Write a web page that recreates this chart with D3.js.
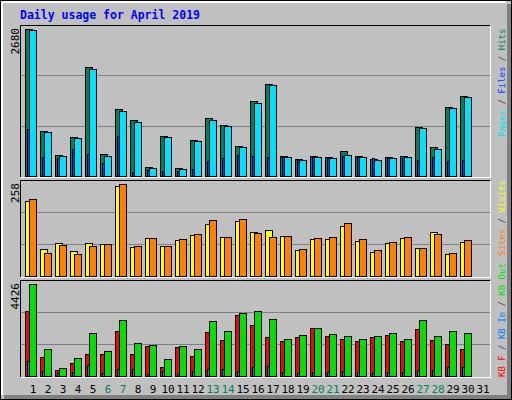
<!DOCTYPE html>
<html><head><meta charset="utf-8">
<script src="https://cdn.jsdelivr.net/npm/d3@7"></script>
<style>body{margin:0;background:#fff}svg{display:block}</style>
</head><body>
<script>
const days = d3.range(1,32);
const weekends = [6,7,13,14,20,21,27,28];
const hits  = [2680,820,383,711,1987,401,1221,1021,164,729,146,656,1057,930,547,1367,1677,365,310,365,346,456,365,310,346,365,893,529,1258,1458,0];
const files = [2662,802,365,693,1950,365,1185,985,146,711,128,638,1021,911,529,1330,1659,346,292,346,328,383,346,292,328,346,875,492,1240,1440,0];
const pages = [857,346,328,492,401,237,729,73,109,91,91,128,273,328,383,365,346,346,292,346,328,365,346,328,328,328,292,346,273,292,0];
const visits= [209,75,92,69,92,89,252,80,106,83,100,114,145,109,153,123,128,111,72,103,103,139,97,66,92,106,78,123,61,94,0];
const sites = [215,64,86,61,83,89,257,83,106,83,103,117,156,109,159,120,109,111,75,106,109,148,103,72,94,109,78,117,64,100,0];
const kbOut = [4426,1289,372,854,2061,1192,2689,1578,1482,806,1434,1289,2640,2158,3027,3123,2737,1771,1965,2302,2013,1916,1771,1916,2061,1771,2689,1916,2158,2061,0];
const kbF   = [3123,903,275,613,1047,1047,2158,1047,1434,420,1385,951,2109,1723,2930,2447,1868,1675,1868,2302,1916,1771,1675,1868,1965,1675,2254,1723,1530,1289,0];
const kbIn  = [710,227,130,179,516,130,323,323,82,227,82,227,323,323,227,420,468,179,130,179,179,227,179,130,179,179,275,275,420,420,0];
const maxLabels = ["2680","258","4426"];

const svg = d3.select("body").append("svg").attr("width",512).attr("height",400);
const mono = "'DejaVu Sans Mono', monospace";
svg.append("rect").attr("width",512).attr("height",400).attr("fill","#C0C0C0");
// frame
svg.append("rect").attr("x",0.5).attr("y",0.5).attr("width",511).attr("height",399).attr("fill","none").attr("stroke","#000");
svg.append("path").attr("d","M1,1H506V3H3V395H1Z").attr("fill","#fff");
svg.append("path").attr("d","M507,4H511V399H4V395H507Z").attr("fill","#808080");

svg.append("text").attr("x",20).attr("y",19).attr("font-family",mono).attr("font-weight","bold")
  .attr("font-size","11.5px").attr("fill","#0000FF").text("Daily usage for April 2019");

const x = d3.scaleBand().domain(days).range([25,490]).paddingInner(0).paddingOuter(0);

const panels = [
  {top:25, bottom:177, max:2680, yTop:29, series:[[hits,"#00805C"],[files,"#00E0FF"],[pages,"#0040FF"]], label:maxLabels[0],
   legend:[["Pages","#00E0FF"],[" / ","#404040"],["Files","#0040FF"],[" / ","#404040"],["Hits","#00805C"]], lAnchorY:137},
  {top:180, bottom:277, max:258, yTop:184, series:[[visits,"#FFFF00"],[sites,"#FF8000"]], label:maxLabels[1],
   legend:[["Sites","#FF8000"],[" / ","#404040"],["Visits","#FFFF00"]], lAnchorY:256},
  {top:280, bottom:377, max:4426, yTop:284, series:[[kbF,"#FF0000"],[kbOut,"#00E000"],[kbIn,"#0080FF"]], label:maxLabels[2],
   legend:[["KB F","#FF0000"],[" / ","#404040"],["KB In","#0080FF"],[" / ","#404040"],["KB Out","#00E000"]], lAnchorY:377}
];

panels.forEach(p=>{
  const base = p.bottom-1;
  const y = d3.scaleLinear().domain([0,p.max]).range([base,p.yTop]);
  // inset frame
  svg.append("path").attr("d",`M20.5,${p.bottom}V${p.top+0.5}H490.5`).attr("fill","none").attr("stroke","#000");
  svg.append("path").attr("d",`M20.5,${p.bottom+0.5}H490.5V${p.top+0.5}`).attr("fill","none").attr("stroke","#fff");
  const h = base - p.top;
  [1,2].forEach(k=>{
    const gy = Math.round(p.top + h*k/3)+0.5;
    svg.append("line").attr("x1",21).attr("x2",490).attr("y1",gy).attr("y2",gy).attr("stroke","#808080");
  });
  const g = svg.append("g");
  const offs = [[0,7],[4,7],[2,2]];
  p.series.forEach((s,si)=>{
    const [vals,col] = s;
    g.selectAll(null).data(vals.map((v,i)=>({d:days[i],v}))).enter()
      .filter(d=>d.v>0)
      .append("rect")
      .attr("x",d=>Math.round(x(d.d))+offs[si][0]+0.5)
      .attr("width",offs[si][1])
      .attr("y",d=>Math.round(y(d.v))+0.5)
      .attr("height",d=>Math.max(0,base-Math.round(y(d.v))))
      .attr("fill",col).attr("stroke","#000").attr("stroke-width",1);
  });
  svg.append("text").attr("transform",`translate(19,${p.top+3}) rotate(-90)`)
    .attr("text-anchor","end").attr("font-family",mono).attr("font-size","11px").attr("fill","#000").text(p.label);
  const t = svg.append("text").attr("transform",`translate(505,${p.lAnchorY}) rotate(-90)`)
    .attr("font-family",mono).attr("font-size","9px").attr("xml:space","preserve");
  p.legend.forEach(([s,c])=>t.append("tspan").attr("fill",c).text(s));
});

svg.append("g").selectAll("text").data(days).enter().append("text")
  .attr("x",d=>x(d)+8).attr("y",393).attr("text-anchor","middle")
  .attr("font-family",mono).attr("font-size","11px")
  .attr("fill",d=>weekends.includes(d)?"#00805C":"#000").text(d=>d);
</script>
</body></html>
